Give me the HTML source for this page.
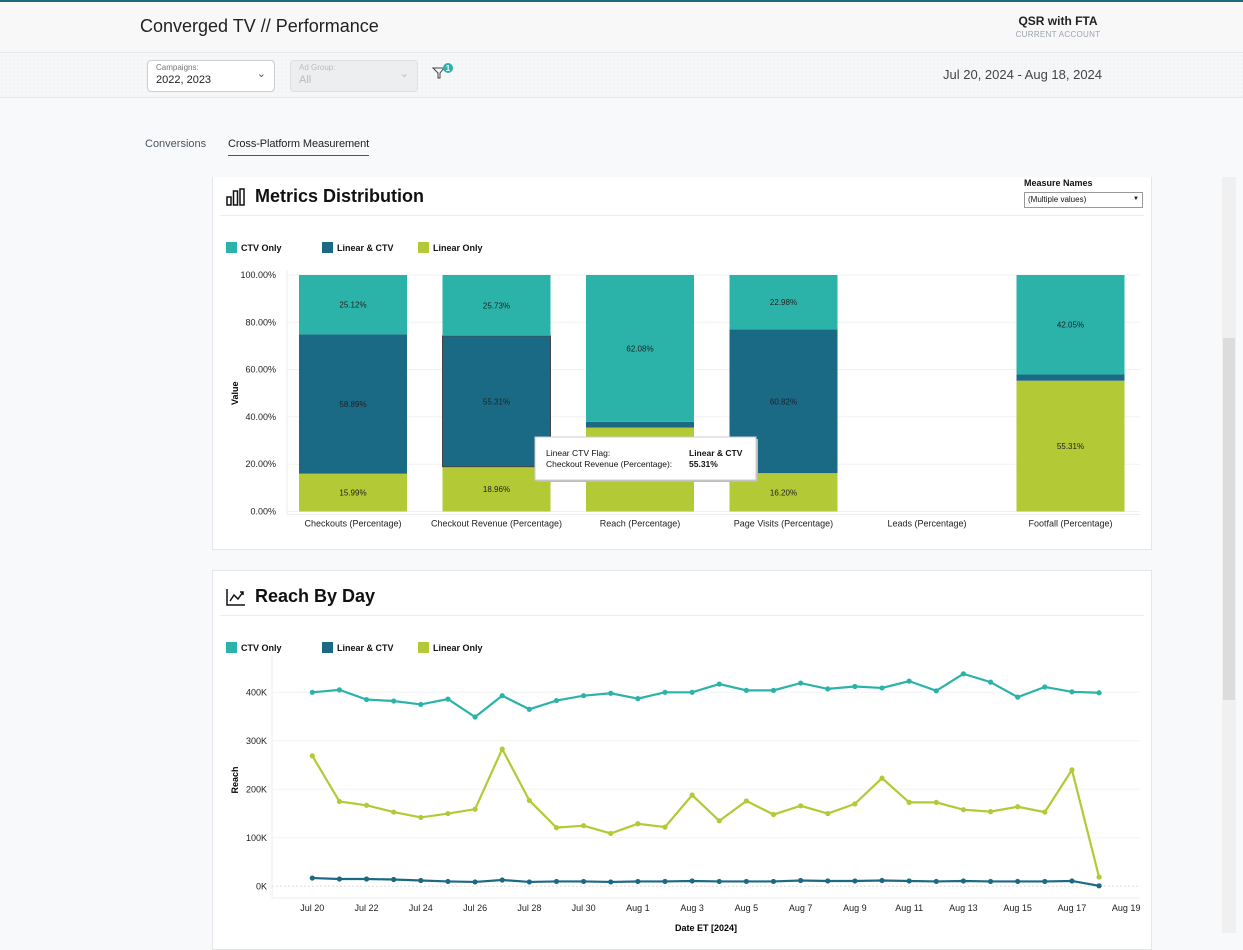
<!DOCTYPE html>
<html><head><meta charset="utf-8"><style>
*{box-sizing:border-box;margin:0;padding:0}
body{width:1243px;height:933px;overflow:hidden;background:#f8f9fb;font-family:"Liberation Sans",sans-serif;position:relative}
.abs{position:absolute}
</style></head><body>
<div class="abs" style="left:0;top:0;width:1243px;height:2px;background:#1c6a80"></div>
<div class="abs" style="left:0;top:2px;width:1243px;height:51px;background:#f8f8f9;border-bottom:1px solid #e6e8eb"></div>
<div class="abs" style="left:140px;top:16px;font-size:18px;color:#222">Converged TV // Performance</div>
<div class="abs" style="left:998px;top:14px;width:120px;text-align:center;font-size:12px;font-weight:bold;color:#222">QSR with FTA</div>
<div class="abs" style="left:998px;top:30px;width:120px;text-align:center;font-size:8px;color:#9aa3ad;letter-spacing:.3px">CURRENT ACCOUNT</div>
<div class="abs" style="left:0;top:54px;width:1243px;height:44px;background:#f6f7f9;border-bottom:1px solid #e6e8eb;background-image:radial-gradient(#e4e6ea 0.6px,transparent 0.7px);background-size:4px 4px"></div>
<div class="abs" style="left:147px;top:60px;width:128px;height:32px;background:#fff;border:1px solid #c9ced4;border-radius:4px">
<div style="position:absolute;left:8px;top:2px;font-size:8px;color:#777">Campaigns:</div>
<div style="position:absolute;left:8px;top:13px;font-size:11px;color:#222">2022, 2023</div>
<div style="position:absolute;right:8px;top:6px;font-size:11px;color:#555">⌄</div></div>
<div class="abs" style="left:290px;top:60px;width:128px;height:32px;background:#eceef0;border:1px solid #dfe2e5;border-radius:4px">
<div style="position:absolute;left:8px;top:2px;font-size:8px;color:#bbb">Ad Group:</div>
<div style="position:absolute;left:8px;top:13px;font-size:11px;color:#bbb">All</div>
<div style="position:absolute;right:8px;top:6px;font-size:11px;color:#bbb">⌄</div></div>
<svg class="abs" style="left:432px;top:62px" width="24" height="20"><path d="M1 6 L12 6 L8 11 L8 16 L6 16 L6 11 Z" fill="none" stroke="#444" stroke-width="1"/><circle cx="16" cy="6" r="5" fill="#2bb3aa"/><text x="16" y="9" font-size="8" fill="#fff" text-anchor="middle" font-family="Liberation Sans" font-weight="bold">1</text></svg>
<div class="abs" style="left:943px;top:67px;font-size:13px;color:#444">Jul 20, 2024 - Aug 18, 2024</div>
<div class="abs" style="left:145px;top:138px;font-size:11px;color:#4a5560">Conversions</div>
<div class="abs" style="left:228px;top:138px;font-size:11px;color:#222;padding-bottom:5px;border-bottom:1.5px solid #1c6a80;letter-spacing:-0.1px">Cross-Platform Measurement</div>
<div class="abs" style="left:1222px;top:177px;width:14px;height:756px;background:#f0f0f0"></div>
<div class="abs" style="left:1223px;top:338px;width:12px;height:362px;background:#dcdcdc"></div>

<!-- Card 1 -->
<div class="abs" style="left:212px;top:177px;width:940px;height:373px;background:#fff;border:1px solid #e4e6e9;border-top:none"></div>
<svg class="abs" style="left:226px;top:188px" width="20" height="18"><rect x="1" y="9" width="4" height="8" fill="none" stroke="#111" stroke-width="1.5"/><rect x="7.5" y="3" width="4" height="14" fill="none" stroke="#111" stroke-width="1.5"/><rect x="14" y="1" width="4" height="16" fill="none" stroke="#111" stroke-width="1.5"/></svg>
<div class="abs" style="left:255px;top:186px;font-size:18px;font-weight:bold;color:#111">Metrics Distribution</div>
<div class="abs" style="left:220px;top:215px;width:924px;height:1px;background:#eee"></div>
<div class="abs" style="left:1024px;top:178px;font-size:9px;font-weight:bold;color:#111">Measure Names</div>
<div class="abs" style="left:1024px;top:192px;width:119px;height:16px;border:1px solid #999;font-size:8px;padding:2px 3px;color:#111">(Multiple values)<span style="float:right;font-size:6px;margin-top:1px">▼</span></div>
<svg class="abs" id="bars" style="left:212px;top:230px" width="940" height="310"></svg>

<!-- Card 2 -->
<div class="abs" style="left:212px;top:570px;width:940px;height:380px;background:#fff;border:1px solid #e4e6e9"></div>
<svg class="abs" style="left:226px;top:588px" width="20" height="18"><path d="M1 1 V17 H19" fill="none" stroke="#111" stroke-width="1.5"/><path d="M4 13 L8 7 L12 11 L17 4" fill="none" stroke="#111" stroke-width="1.5"/><path d="M14 4 H17 V7" fill="none" stroke="#111" stroke-width="1.5"/></svg>
<div class="abs" style="left:255px;top:586px;font-size:18px;font-weight:bold;color:#111">Reach By Day</div>
<div class="abs" style="left:220px;top:615px;width:924px;height:1px;background:#eee"></div>
<svg class="abs" id="lines" style="left:212px;top:630px" width="940" height="303"></svg>

<script>
const NS="http://www.w3.org/2000/svg";
function mk(p,tag,at,txt){const e=document.createElementNS(NS,tag);for(const k in at)e.setAttribute(k,at[k]);if(txt!==undefined)e.textContent=txt;p.appendChild(e);return e;}
const COL={ctv:"#2bb3aa",both:"#1a6985",lin:"#b3c935"};
const FONT="Liberation Sans, sans-serif";

// ---- Bar chart data ----
const barCategories=["Checkouts (Percentage)","Checkout Revenue (Percentage)","Reach (Percentage)","Page Visits (Percentage)","Leads (Percentage)","Footfall (Percentage)"];
const linearOnly=[15.99,18.96,35.5,16.20,0,55.31];
const linearCtv=[58.89,55.31,2.42,60.82,0,2.64];
const ctvOnly=[25.12,25.73,62.08,22.98,0,42.05];
const barTicks=[0,20,40,60,80,100];
const barLabelsShown=[[true,true,true],[true,true,true],[false,false,true],[true,true,true],[false,false,false],[true,false,true]];

// ---- Line chart data ----
const dayLabels=["Jul 20","Jul 22","Jul 24","Jul 26","Jul 28","Jul 30","Aug 1","Aug 3","Aug 5","Aug 7","Aug 9","Aug 11","Aug 13","Aug 15","Aug 17","Aug 19"];
const reachCtv=[400,405,385,382,375,386,349,393,365,383,393,398,387,400,400,417,404,404,419,407,412,409,423,403,438,421,390,411,401,399];
const reachLinear=[269,175,167,153,142,150,159,283,177,121,125,109,129,122,188,135,176,148,166,150,170,223,173,173,158,154,164,153,240,19];
const reachBoth=[17,15,15,14,12,10,9,13,9,10,10,9,10,10,11,10,10,10,12,11,11,12,11,10,11,10,10,10,11,1];
const reachTicks=[0,100,200,300,400];

(function(){
 const s=document.getElementById('bars');
 const leg=[["CTV Only",COL.ctv,14],["Linear & CTV",COL.both,110],["Linear Only",COL.lin,206]];
 leg.forEach(l=>{const g=mk(s,'g',{});
  
  
  mk(g,'rect',{x:l[2],y:12,width:11,height:11,fill:l[1]});mk(g,'text',{x:l[2]+15,y:21,'font-size':9,'font-weight':'bold','font-family':FONT,fill:'#111'},l[0]);});
 const top=45,bot=281.5,x0=75;
 const y=v=>bot-(v/100)*(bot-top);
 const bx=i=>141+143.5*i;
 mk(s,'line',{x1:x0,y1:top-5,x2:x0,y2:bot+3,stroke:'#eee'});
 barTicks.forEach(t=>{mk(s,'line',{x1:x0,x2:928,y1:y(t),y2:y(t),stroke:'#f1f1f1'});
  const tx=mk(s,'text',{x:64,y:y(t)+3,'font-size':9,'text-anchor':'end','font-family':FONT,fill:'#222'},t.toFixed(2)+'%');
  
  });
 const yt=mk(s,'text',{x:26,y:(top+bot)/2,'font-size':9,'font-weight':'bold','font-family':FONT,'text-anchor':'middle',transform:`rotate(-90 26 ${(top+bot)/2})`},'Value');
 
 
 mk(s,'line',{x1:x0,x2:928,y1:bot+3,y2:bot+3,stroke:'#eee'});
 barCategories.forEach((c,i)=>{
  const segs=[[linearOnly[i],COL.lin],[linearCtv[i],COL.both],[ctvOnly[i],COL.ctv]];
  let acc=0;
  segs.forEach((sg,j)=>{if(sg[0]<=0)return;
   const r=mk(s,'rect',{x:bx(i)-54,width:108,y:y(acc+sg[0]),height:y(acc)-y(acc+sg[0]),fill:sg[1]});
   
   
   if(i===1&&j===1){r.setAttribute('stroke','#444');r.setAttribute('stroke-width','1');}
   if(barLabelsShown[i][j])mk(s,'text',{x:bx(i),y:(y(acc)+y(acc+sg[0]))/2+3,'font-size':8,'text-anchor':'middle','font-family':FONT,fill:'#222'},sg[0].toFixed(2)+'%');
   acc+=sg[0];});
  const xl=mk(s,'text',{x:bx(i),y:bot+15,'font-size':9,'text-anchor':'middle','font-family':FONT,fill:'#222'},c);
  
  
 });
 const tg=mk(s,'g',{});
 
 
 mk(tg,'rect',{x:325,y:209,width:221,height:43,fill:'#bbb'});
 mk(tg,'rect',{x:323,y:207,width:221,height:43,fill:'#fff',stroke:'#ccc'});
 mk(tg,'text',{x:334,y:226,'font-size':8.5,'font-family':FONT,fill:'#111'},'Linear CTV Flag:');
 mk(tg,'text',{x:477,y:226,'font-size':8.5,'font-weight':'bold','font-family':FONT,fill:'#111'},'Linear & CTV');
 mk(tg,'text',{x:334,y:237,'font-size':8.5,'font-family':FONT,fill:'#111'},'Checkout Revenue (Percentage):');
 mk(tg,'text',{x:477,y:237,'font-size':8.5,'font-weight':'bold','font-family':FONT,fill:'#111'},'55.31%');
})();

(function(){
 const s=document.getElementById('lines');
 const leg=[["CTV Only",COL.ctv,14],["Linear & CTV",COL.both,110],["Linear Only",COL.lin,206]];
 leg.forEach(l=>{const g=mk(s,'g',{});
  
  
  mk(g,'rect',{x:l[2],y:12,width:11,height:11,fill:l[1]});mk(g,'text',{x:l[2]+15,y:21,'font-size':9,'font-weight':'bold','font-family':FONT,fill:'#111'},l[0]);});
 const X=i=>100.3+27.13*i;
 const y0=256.3,k=194/400;
 const Y=v=>y0-v*k;
 mk(s,'line',{x1:60,y1:25,x2:60,y2:268,stroke:'#eee'});
 mk(s,'line',{x1:60,y1:268,x2:928,y2:268,stroke:'#eee'});
 reachTicks.forEach(t=>{mk(s,'line',{x1:60,x2:928,y1:Y(t),y2:Y(t),stroke:t===0?'#ddd':'#f3f3f3','stroke-dasharray':t===0?'2,2':''});
  const tx=mk(s,'text',{x:55,y:Y(t)+3,'font-size':9,'text-anchor':'end','font-family':FONT,fill:'#222'},t+'K');
  
  });
 dayLabels.forEach((d,i)=>{const tx=mk(s,'text',{x:X(i*2),y:281,'font-size':9,'text-anchor':'middle','font-family':FONT,fill:'#222'},d);
  
  });
 const yt=mk(s,'text',{x:26,y:150,'font-size':9,'font-weight':'bold','font-family':FONT,'text-anchor':'middle',transform:'rotate(-90 26 150)'},'Reach');
 
 
 const xt=mk(s,'text',{x:494,y:301,'font-size':9,'font-weight':'bold','font-family':FONT,'text-anchor':'middle'},'Date ET [2024]');
 
 
 [[reachCtv,COL.ctv,'ctv-only-line'],[reachLinear,COL.lin,'linear-only-line'],[reachBoth,COL.both,'linear-ctv-line']].forEach(sr=>{
  const pts=sr[0].map((v,i)=>X(i)+','+Y(v)).join(' ');
  const pl=mk(s,'polyline',{points:pts,fill:'none',stroke:sr[1],'stroke-width':2.2});
  
  
  sr[0].forEach((v,i)=>{const c=mk(s,'circle',{cx:X(i),cy:Y(v),r:2.6,fill:sr[1]});
   
   });
 });
})();
</script>
</body></html>
